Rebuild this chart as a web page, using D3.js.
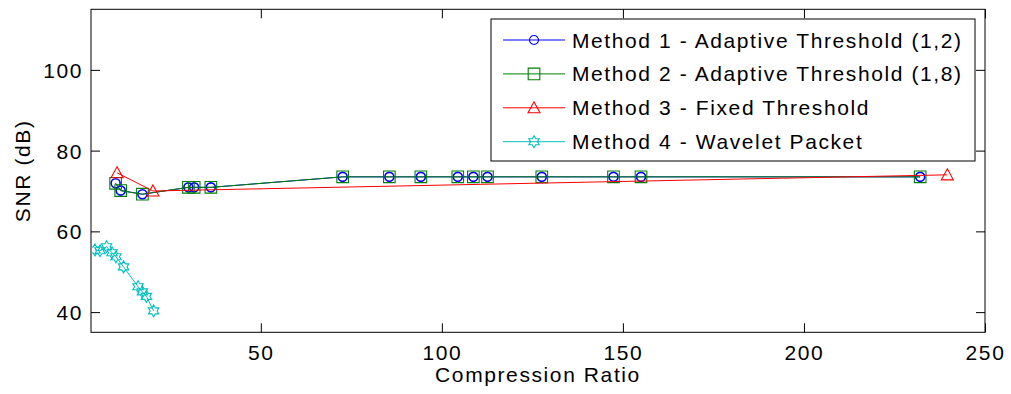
<!DOCTYPE html>
<html>
<head>
<meta charset="utf-8">
<script src="https://cdn.jsdelivr.net/npm/d3@7"></script>
<style>
  html, body { margin: 0; padding: 0; background: #fff; }
  svg { display: block; }
  text { font-family: "Liberation Sans", Arial, Helvetica, sans-serif; fill: #000; }
</style>
</head>
<body>
<svg id="chart" width="1011" height="394"></svg>
<script>
// ---- data ----
const seriesNames = [
  "Method 1 - Adaptive Threshold (1,2)",
  "Method 2 - Adaptive Threshold (1,8)",
  "Method 3 - Fixed Threshold",
  "Method 4 - Wavelet Packet"
];
const method1X = [9.9, 11.3, 17.3, 30.0, 31.6, 36.2, 72.6, 85.5, 94.2, 104.4, 108.7, 112.6, 127.6, 147.4, 155.0, 232.1];
const method1Y = [71.9, 70.1, 69.2, 70.9, 70.9, 70.9, 73.5, 73.5, 73.5, 73.5, 73.5, 73.5, 73.5, 73.5, 73.5, 73.5];
const method2X = [9.9, 11.3, 17.3, 30.0, 31.6, 36.2, 72.6, 85.5, 94.2, 104.4, 108.7, 112.6, 127.6, 147.4, 155.0, 232.1];
const method2Y = [71.9, 70.1, 69.2, 70.9, 70.9, 70.9, 73.5, 73.5, 73.5, 73.5, 73.5, 73.5, 73.5, 73.5, 73.5, 73.5];
const method3X = [10.3, 20.2, 239.6];
const method3Y = [74.5, 70.0, 74.0];
const method4X = [4.2, 5.6, 7.4, 8.9, 10.0, 12.1, 16.1, 17.3, 18.4, 20.4];
const method4Y = [55.4, 55.2, 56.2, 54.7, 53.7, 51.2, 46.3, 45.0, 43.9, 40.3];
const xTicks = [50, 100, 150, 200, 250];
const yTicks = [40, 60, 80, 100];
const xLabel = "Compression Ratio";
const yLabel = "SNR (dB)";

// ---- layout ----
const L = 91, R = 985, T = 9.3, B = 332.3;
const svg = d3.select("#chart");
const x = d3.scaleLinear().domain([3.1, 250]).range([L, R]);
const y = d3.scaleLinear().domain([35, 115]).range([B, T]);
const FS = 21, LS = "1.6px";

const colors = ["#0000ff", "#008000", "#ff0000", "#00bfbf"];
const markers = ["circle", "square", "triangle", "hexagram"];

function markerPath(type) {
  if (type === "circle") {
    const r = 4.5;
    return `M${r},0A${r},${r} 0 1,1 ${-r},0A${r},${r} 0 1,1 ${r},0Z`;
  }
  if (type === "square") {
    const s = 5.8;
    return `M${-s},${-s}H${s}V${s}H${-s}Z`;
  }
  if (type === "triangle") {
    return `M0,-6L6,5L-6,5Z`;
  }
  // hexagram
  const Ro = 6, Ri = Ro / Math.sqrt(3);
  const pts = [];
  for (let k = 0; k < 12; k++) {
    const a = (-90 + 30 * k) * Math.PI / 180;
    const rr = k % 2 === 0 ? Ro : Ri;
    pts.push([rr * Math.cos(a), rr * Math.sin(a)]);
  }
  return "M" + pts.map(p => p[0].toFixed(2) + "," + p[1].toFixed(2)).join("L") + "Z";
}

// ---- axes box ----
svg.append("rect").attr("x", L).attr("y", T).attr("width", R - L).attr("height", B - T)
  .attr("fill", "#fff").attr("stroke", "none");

const tickLen = 9;
const gx = svg.append("g").attr("transform", `translate(0,${B})`)
  .call(d3.axisBottom(x).tickValues(xTicks).tickSize(-tickLen).tickPadding(13).tickFormat(d3.format("d")));
const gxt = svg.append("g").attr("transform", `translate(0,${T})`)
  .call(d3.axisTop(x).tickValues(xTicks).tickSize(-tickLen).tickFormat(""));
const gy = svg.append("g").attr("transform", `translate(${L},0)`)
  .call(d3.axisLeft(y).tickValues(yTicks).tickSize(-tickLen).tickPadding(8).tickFormat(d3.format("d")));
const gyr = svg.append("g").attr("transform", `translate(${R},0)`)
  .call(d3.axisRight(y).tickValues(yTicks).tickSize(-tickLen).tickFormat(""));
[gx, gxt, gy, gyr].forEach(g => {
  g.select(".domain").remove();
  g.selectAll("line").attr("stroke", "#000").attr("stroke-width", 1);
  g.selectAll("text").attr("font-size", FS).style("letter-spacing", LS)
    .attr("font-family", "Liberation Sans, Arial, sans-serif").attr("fill", "#000");
});
gy.selectAll("text").attr("dy", "0.36em");

svg.append("rect").attr("x", L).attr("y", T).attr("width", R - L).attr("height", B - T)
  .attr("fill", "none").attr("stroke", "#000").attr("stroke-width", 1);

// ---- series ----
const clip = svg.append("defs").append("clipPath").attr("id", "plotclip")
  .append("rect").attr("x", L).attr("y", T).attr("width", R - L).attr("height", B - T);
const plot = svg.append("g").attr("clip-path", "url(#plotclip)");

const seriesX = [method1X, method2X, method3X, method4X];
const seriesY = [method1Y, method2Y, method3Y, method4Y];
const line = d3.line().x(d => x(d[0])).y(d => y(d[1]));

seriesX.forEach((xs, i) => {
  const pts = xs.map((v, j) => [v, seriesY[i][j]]);
  const g = plot.append("g");
  g.append("path").datum(pts).attr("d", line)
    .attr("fill", "none").attr("stroke", colors[i]).attr("stroke-width", 1);
  g.selectAll("path.mk").data(pts).enter().append("path").attr("class", "mk")
    .attr("d", markerPath(markers[i]))
    .attr("transform", d => `translate(${x(d[0])},${y(d[1])})`)
    .attr("fill", "none").attr("stroke", colors[i])
    .attr("stroke-width", i === 0 ? 1.6 : 1.1);
});

// ---- axis labels ----
svg.append("text").attr("x", (L + R) / 2).attr("y", 382).attr("text-anchor", "middle")
  .attr("font-size", FS).style("letter-spacing", LS).text(xLabel);
svg.append("text").attr("transform", `translate(30,${(T + B) / 2}) rotate(-90)`)
  .attr("text-anchor", "middle").attr("font-size", FS).style("letter-spacing", LS).text(yLabel);

// ---- legend ----
const lg = svg.append("g");
lg.append("rect").attr("x", 491).attr("y", 19).attr("width", 484).attr("height", 142)
  .attr("fill", "#fff").attr("stroke", "#000").attr("stroke-width", 1);
seriesNames.forEach((name, i) => {
  const cy = 40 + 33.9 * i;
  lg.append("line").attr("x1", 503).attr("x2", 565).attr("y1", cy).attr("y2", cy)
    .attr("stroke", colors[i]).attr("stroke-width", 1);
  lg.append("path").attr("d", markerPath(markers[i]))
    .attr("transform", `translate(534,${cy})`)
    .attr("fill", "none").attr("stroke", colors[i]).attr("stroke-width", 1.1);
  lg.append("text").attr("x", 572).attr("y", cy + 7.5).attr("font-size", FS)
    .style("letter-spacing", LS).text(name);
});
</script>
</body>
</html>
